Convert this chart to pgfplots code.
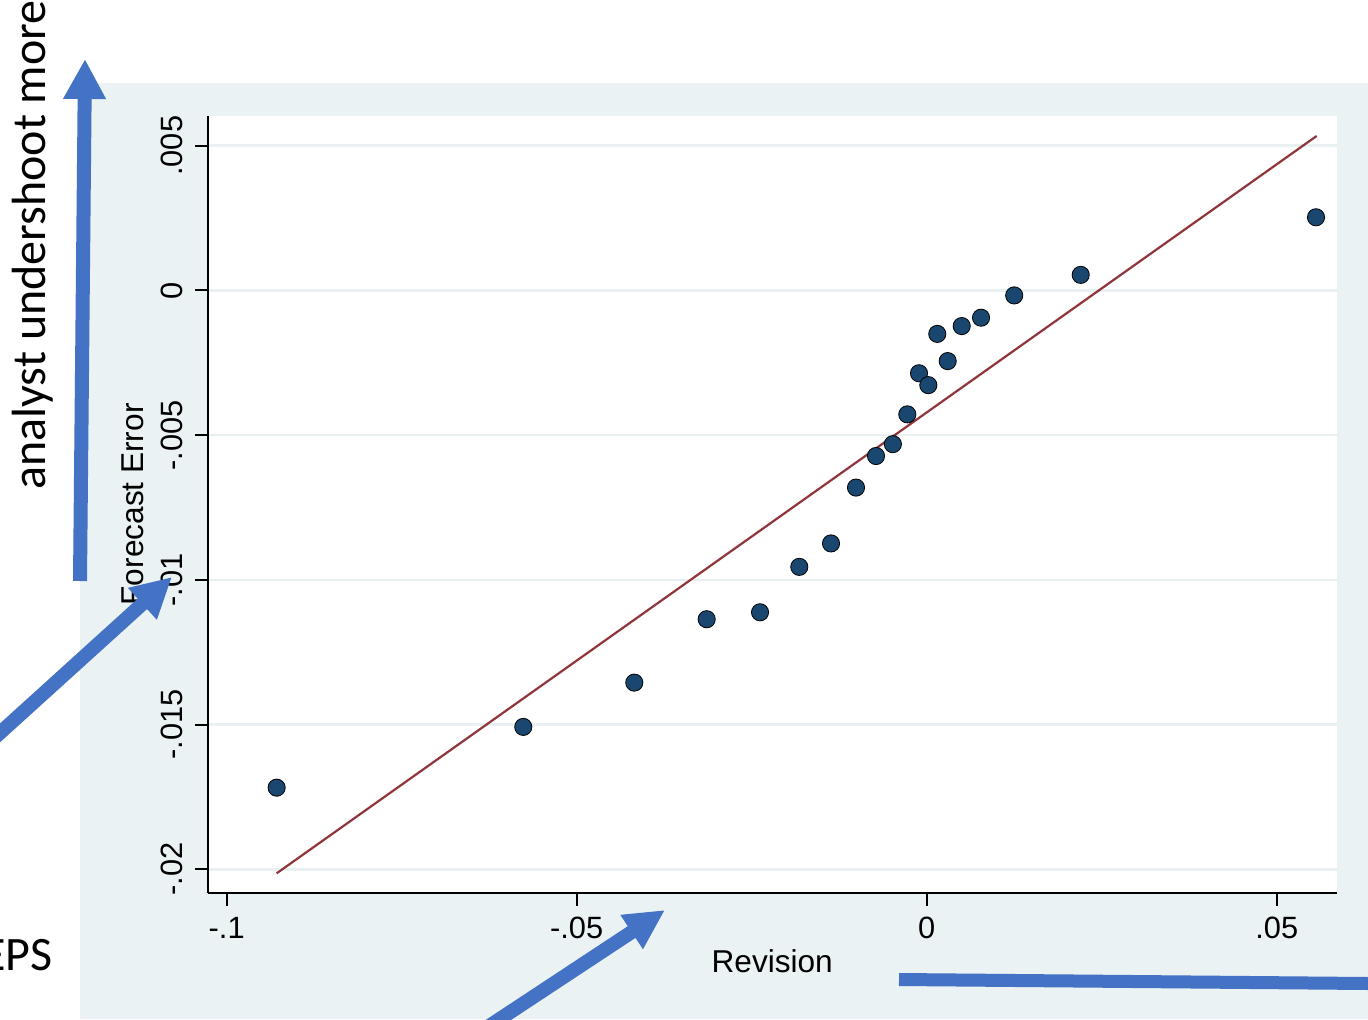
\documentclass[border=0pt]{standalone}
\usepackage{pgfplots}
\pgfplotsset{compat=1.18}
\usepackage{fontspec}
\setmainfont{Liberation Sans}
\newfontfamily\calibri{Carlito}
\usetikzlibrary{arrows.meta}

\definecolor{panelbg}{RGB}{234,242,243}
\definecolor{gridc}{RGB}{232,240,242}
\definecolor{statanavy}{RGB}{26,71,111}
\definecolor{statamaroon}{RGB}{144,53,59}
\definecolor{arrowblue}{RGB}{68,114,196}

\begin{document}
\begin{tikzpicture}
\useasboundingbox (0,0) rectangle (684pt,509.5pt);
\clip (0,0) rectangle (684pt,509.5pt);
\fill[white] (0,0) rectangle (684pt,509.5pt);
% graph region
\begin{scope}[shift={(0pt,509.5pt)},x=0.5pt,y=-0.5pt]
  \fill[panelbg] (80,83) rectangle (1368,1019);
\end{scope}

\begin{axis}[
  at={(103.85pt,63pt)}, anchor=south west,
  scale only axis, width=564.5pt, height=388.65pt,
  xmin=-0.10271, xmax=0.05857, ymin=-0.02082, ymax=0.00604,
  axis background/.style={fill=white},
  axis x line*=bottom, axis y line*=left,
  axis line style={black, line width=1pt, -},
  tick align=outside,
  major tick length=6.3pt,
  tick style={black, line width=1pt},
  xtick={-0.1,-0.05,0,0.05}, xticklabels={-.1,-.05,0,.05},
  ytick={-0.02,-0.015,-0.01,-0.005,0,0.005},
  yticklabels={-.02,-.015,-.01,-.005,0,.005},
  scaled x ticks=false, scaled y ticks=false,
  ymajorgrids, grid style={gridc, line width=1.3pt},
  tick label style={font=\fontsize{15.4}{18}\selectfont},
  xticklabel style={anchor=base, inner sep=0pt},
  yticklabel style={rotate=90, anchor=base, inner sep=0pt},
  xticklabel shift=16.5pt,
  yticklabel shift=6.35pt,
  xlabel={Revision}, ylabel={Forecast Error},
  every axis x label/.style={at={(axis description cs:0.5,-0.1029)}, anchor=base,
    inner sep=0pt, font=\fontsize{15.8}{19}\selectfont},
  every axis y label/.style={at={(axis description cs:-0.0569,0.5)}, rotate=90, anchor=base,
    inner sep=0pt, font=\fontsize{15.8}{19}\selectfont},
  clip=false,
]
\addplot[only marks, mark=*, mark size=4.3pt, mark options={fill=statanavy, draw=none}]
  coordinates {
  (-0.09286,-0.01718) (-0.05763,-0.01508) (-0.04177,-0.01355) (-0.03143,-0.01136)
  (-0.02381,-0.01112) (-0.01820,-0.00955) (-0.01367,-0.00874) (-0.01010,-0.00681)
  (-0.00724,-0.00572) (-0.00483,-0.00531) (-0.00277,-0.00428) (-0.00110,-0.00286)
  (0.00023,-0.00327) (0.00151,-0.00150) (0.00300,-0.00244) (0.00500,-0.00123)
  (0.00776,-0.00094) (0.01250,-0.00017) (0.02200,0.00054) (0.05561,0.00253)
  };
% fitted values
\addplot[statamaroon, line width=1.1pt] coordinates {(-0.09286,-0.02014) (0.05571,0.00534)};
\end{axis}

% slide annotations
\begin{scope}[shift={(0pt,509.5pt)},x=0.5pt,y=-0.5pt]
  \draw[arrowblue, line width=7pt, -{Triangle[length=20pt,width=20pt]}] (80,581) -- (85,59);
  \draw[arrowblue, line width=7pt, -{Triangle[length=20pt,width=20pt]}] (-20,751) -- (172,577);
  \draw[arrowblue, line width=7pt, -{Triangle[length=20pt,width=19pt]}] (468,1040) -- (665,910);
  \draw[arrowblue, line width=6.5pt] (899,979.5) -- (1380,983.6);
  \node[font=\calibri\fontsize{24}{28}\selectfont, rotate=90, anchor=base west, inner sep=0pt]
    at (45,490) {analyst undershoot more};
  \node[font=\calibri\fontsize{24}{28}\selectfont, anchor=base east, inner sep=0pt]
    at (53,970) {EPS};
\end{scope}
\end{tikzpicture}
\end{document}
